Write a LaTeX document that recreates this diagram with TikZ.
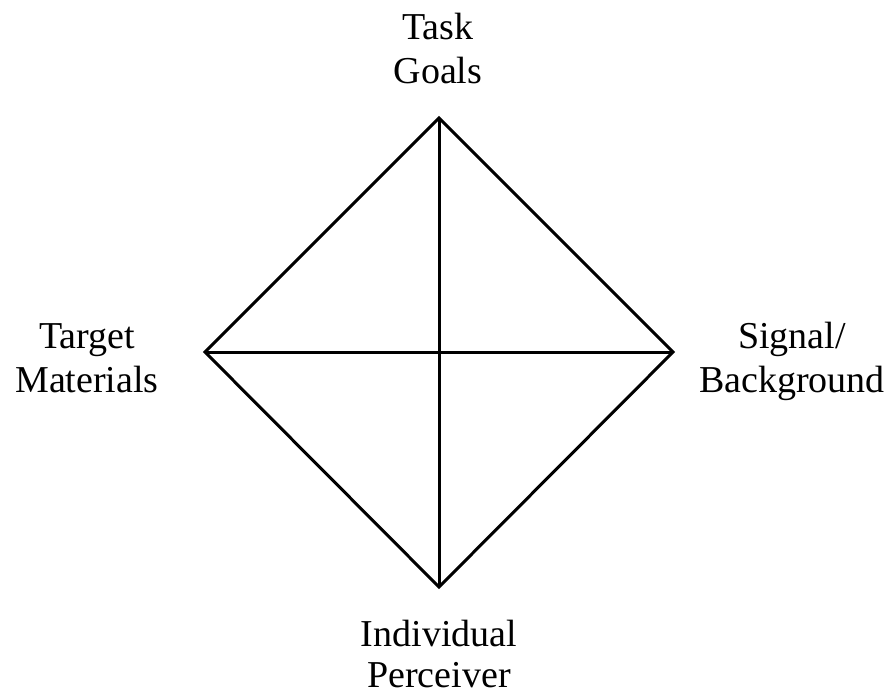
\documentclass[tikz,border=0pt]{standalone}
\usepackage{fontspec}
\setmainfont{Liberation Serif}
\begin{document}
\begin{tikzpicture}[x=1pt,y=-1pt,
  edge/.style={line width=3pt,line join=miter,black},
  lbl/.style={inner sep=0pt,align=center,anchor=base,font=\fontsize{38}{44}\selectfont}]
\useasboundingbox (0,0) rectangle (890,696);
\coordinate (T) at (439,118);
\coordinate (L) at (205,352);
\coordinate (R) at (673,352);
\coordinate (B) at (439,587);
\draw[edge] (T) -- (R) -- (B) -- (L) -- cycle;
\draw[edge] (T) -- (B);
\draw[edge] (L) -- (R);
\node[lbl] (tg) at (438,83) {Task\\Goals};
\node[lbl] (tm) at (87,392) {Target\\Materials};
\node[lbl] (sb) at (792,392) {Signal/\\Background};
\node[lbl,font=\fontsize{38}{41}\selectfont] (ip) at (439,687) {Individual\\Perceiver};
\end{tikzpicture}
\end{document}
